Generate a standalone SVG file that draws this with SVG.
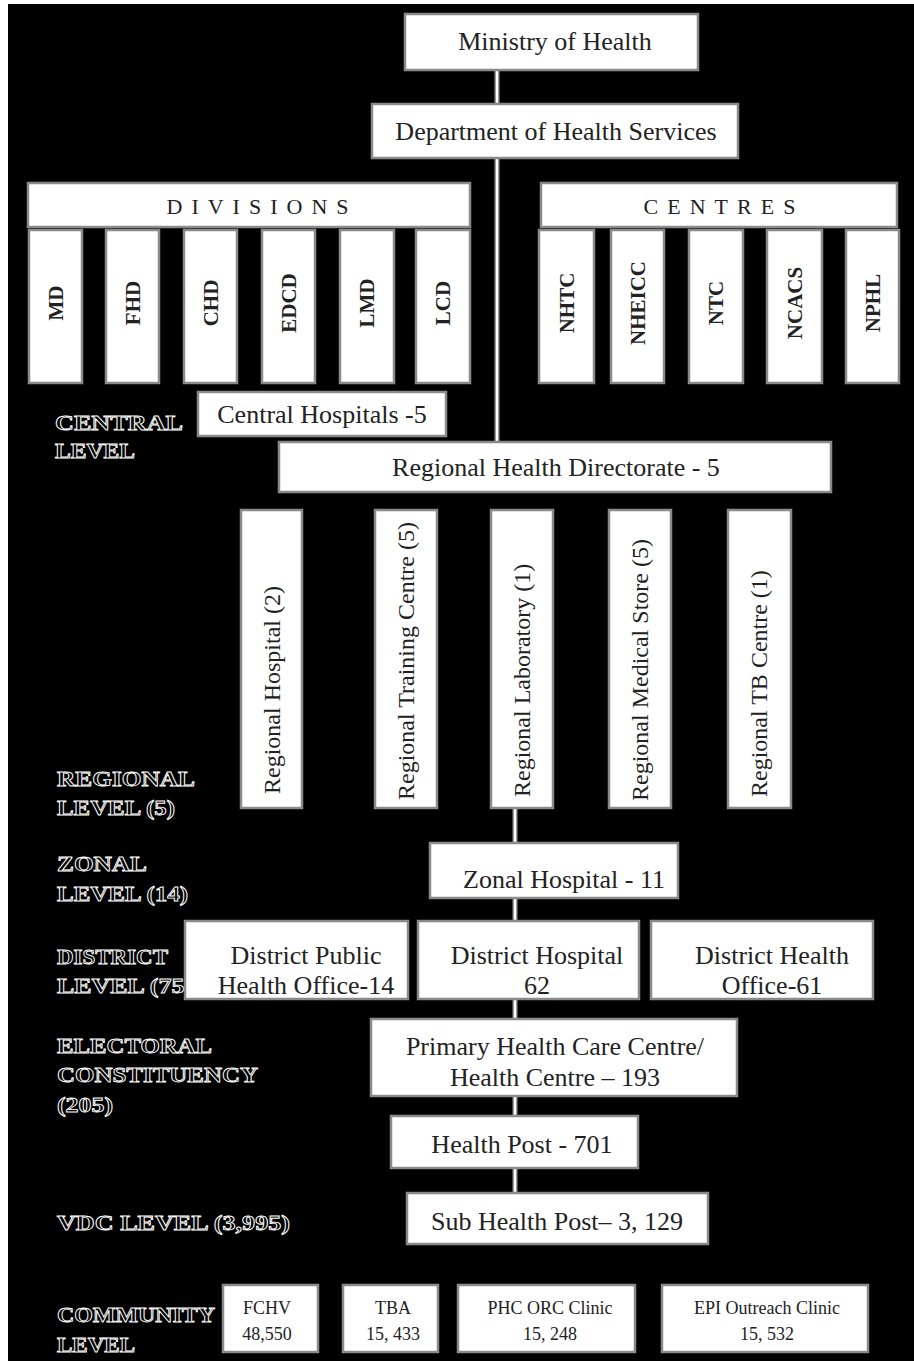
<svg xmlns="http://www.w3.org/2000/svg" width="914" height="1361" viewBox="0 0 914 1361">
<style>
.box{fill:#fff;stroke:#8a8a8a;stroke-width:2.5}
.t{font-family:"Liberation Serif","Times New Roman",serif;fill:#222;text-anchor:middle;font-size:26px}
.v{font-family:"Liberation Serif","Times New Roman",serif;fill:#222;font-size:24px}
.vb{font-family:"Liberation Serif","Times New Roman",serif;fill:#222;font-size:21px;font-weight:bold;text-anchor:middle}
.sm{font-family:"Liberation Serif","Times New Roman",serif;fill:#222;text-anchor:middle;font-size:18px}
.hd{font-family:"Liberation Serif","Times New Roman",serif;fill:#222;text-anchor:middle;font-size:22px;letter-spacing:9px}
.lbl{font-family:"Liberation Serif","Times New Roman",serif;font-weight:bold;fill:#000;stroke:#fff;stroke-width:0.9;font-size:22px}
.co{stroke:#9a9a9a;stroke-width:5;fill:none}
.ci{stroke:#fff;stroke-width:2;fill:none}
</style>
<rect x="0" y="0" width="914" height="1361" fill="#fff"/>
<rect x="8" y="4" width="906" height="1357" fill="#000"/>

<g id="level-labels">
<text class="lbl" x="55" y="430" textLength="128" lengthAdjust="spacingAndGlyphs">CENTRAL</text>
<text class="lbl" x="55" y="458" textLength="80" lengthAdjust="spacingAndGlyphs">LEVEL</text>
<text class="lbl" x="57" y="786" textLength="138" lengthAdjust="spacingAndGlyphs">REGIONAL</text>
<text class="lbl" x="57" y="815" textLength="118" lengthAdjust="spacingAndGlyphs">LEVEL (5)</text>
<text class="lbl" x="57" y="871" textLength="90" lengthAdjust="spacingAndGlyphs">ZONAL</text>
<text class="lbl" x="57" y="901" textLength="131" lengthAdjust="spacingAndGlyphs">LEVEL (14)</text>
<text class="lbl" x="57" y="964" textLength="111" lengthAdjust="spacingAndGlyphs">DISTRICT</text>
<text class="lbl" x="57" y="993" textLength="136" lengthAdjust="spacingAndGlyphs">LEVEL (75)</text>
<text class="lbl" x="57" y="1053" textLength="155" lengthAdjust="spacingAndGlyphs">ELECTORAL</text>
<text class="lbl" x="57" y="1082" textLength="201" lengthAdjust="spacingAndGlyphs">CONSTITUENCY</text>
<text class="lbl" x="57" y="1112" textLength="56" lengthAdjust="spacingAndGlyphs">(205)</text>
<text class="lbl" x="57" y="1230" textLength="233" lengthAdjust="spacingAndGlyphs">VDC LEVEL (3,995)</text>
<text class="lbl" x="57" y="1322" textLength="158" lengthAdjust="spacingAndGlyphs">COMMUNITY</text>
<text class="lbl" x="57" y="1352" textLength="78" lengthAdjust="spacingAndGlyphs">LEVEL</text>
</g>

<g id="connectors">
<line class="co" x1="497" y1="70" x2="497" y2="104"/><line class="ci" x1="497" y1="70" x2="497" y2="104"/>
<line class="co" x1="497" y1="158" x2="497" y2="442"/><line class="ci" x1="497" y1="158" x2="497" y2="442"/>
<line class="co" x1="515" y1="808" x2="515" y2="843"/><line class="ci" x1="515" y1="808" x2="515" y2="843"/>
<line class="co" x1="515" y1="898" x2="515" y2="921"/><line class="ci" x1="515" y1="898" x2="515" y2="921"/>
<line class="co" x1="515" y1="999" x2="515" y2="1019"/><line class="ci" x1="515" y1="999" x2="515" y2="1019"/>
<line class="co" x1="515" y1="1096" x2="515" y2="1116"/><line class="ci" x1="515" y1="1096" x2="515" y2="1116"/>
<line class="co" x1="515" y1="1168" x2="515" y2="1193"/><line class="ci" x1="515" y1="1168" x2="515" y2="1193"/>
</g>

<g id="ministry"><rect class="box" x="405" y="14" width="293" height="56"/><text class="t" x="555" y="50" font-size="25">Ministry of Health</text></g>
<g id="dohs"><rect class="box" x="372" y="104" width="366" height="54"/><text class="t" x="556" y="140" font-size="25">Department of Health Services</text></g>

<g id="divisions"><rect class="box" x="28" y="183" width="442" height="44"/><text class="hd" x="262" y="214">DIVISIONS</text></g>
<g id="centres"><rect class="box" x="541" y="183" width="356" height="44"/><text class="hd" x="724" y="214">CENTRES</text></g>

<g id="div-md"><rect class="box" x="29" y="230" width="53" height="153"/><text class="vb" transform="translate(63,303) rotate(-90)">MD</text></g>
<g id="div-fhd"><rect class="box" x="106" y="230" width="53" height="153"/><text class="vb" transform="translate(140,303) rotate(-90)">FHD</text></g>
<g id="div-chd"><rect class="box" x="184" y="230" width="53" height="153"/><text class="vb" transform="translate(218,303) rotate(-90)">CHD</text></g>
<g id="div-edcd"><rect class="box" x="262" y="230" width="53" height="153"/><text class="vb" transform="translate(296,303) rotate(-90)">EDCD</text></g>
<g id="div-lmd"><rect class="box" x="340" y="230" width="54" height="153"/><text class="vb" transform="translate(374,303) rotate(-90)">LMD</text></g>
<g id="div-lcd"><rect class="box" x="416" y="230" width="54" height="153"/><text class="vb" transform="translate(450,303) rotate(-90)">LCD</text></g>

<g id="cen-nhtc"><rect class="box" x="539" y="230" width="55" height="153"/><text class="vb" transform="translate(574,303) rotate(-90)">NHTC</text></g>
<g id="cen-nheicc"><rect class="box" x="611" y="230" width="53" height="153"/><text class="vb" transform="translate(645,303) rotate(-90)">NHEICC</text></g>
<g id="cen-ntc"><rect class="box" x="689" y="230" width="54" height="153"/><text class="vb" transform="translate(723,303) rotate(-90)">NTC</text></g>
<g id="cen-ncacs"><rect class="box" x="767" y="230" width="55" height="153"/><text class="vb" transform="translate(802,303) rotate(-90)">NCACS</text></g>
<g id="cen-nphl"><rect class="box" x="846" y="230" width="53" height="153"/><text class="vb" transform="translate(880,303) rotate(-90)">NPHL</text></g>

<g id="central-hospitals"><rect class="box" x="198" y="392" width="248" height="44"/><text class="t" x="322" y="423">Central Hospitals -5</text></g>
<g id="rhd"><rect class="box" x="279" y="442" width="552" height="50"/><text class="t" x="556" y="476" font-size="27.5">Regional Health Directorate - 5</text></g>

<g id="reg-hospital"><rect class="box" x="241" y="510" width="61" height="298"/><text class="v" transform="translate(280,794) rotate(-90)">Regional Hospital (2)</text></g>
<g id="reg-training"><rect class="box" x="375" y="510" width="62" height="298"/><text class="v" transform="translate(414,800) rotate(-90)">Regional Training Centre (5)</text></g>
<g id="reg-lab"><rect class="box" x="491" y="510" width="62" height="298"/><text class="v" transform="translate(530,797) rotate(-90)">Regional Laboratory (1)</text></g>
<g id="reg-store"><rect class="box" x="609" y="510" width="62" height="298"/><text class="v" transform="translate(648,801) rotate(-90)">Regional Medical Store (5)</text></g>
<g id="reg-tb"><rect class="box" x="728" y="510" width="63" height="298"/><text class="v" transform="translate(767,797) rotate(-90)">Regional TB Centre (1)</text></g>

<g id="zonal"><rect class="box" x="430" y="843" width="248" height="55"/><text class="t" x="564" y="888" font-size="26.5">Zonal Hospital - 11</text></g>

<g id="dpho"><rect class="box" x="185" y="921" width="223" height="78"/><text class="t" x="306" y="964">District Public</text><text class="t" x="306" y="994">Health Office-14</text></g>
<g id="dh"><rect class="box" x="418" y="921" width="221" height="78"/><text class="t" x="537" y="964">District Hospital</text><text class="t" x="537" y="994">62</text></g>
<g id="dho"><rect class="box" x="651" y="921" width="222" height="78"/><text class="t" x="772" y="964">District Health</text><text class="t" x="772" y="994">Office-61</text></g>

<g id="phcc"><rect class="box" x="371" y="1019" width="366" height="77"/><text class="t" x="555" y="1055" font-size="26.5">Primary Health Care Centre/</text><text class="t" x="555" y="1086" font-size="26.5">Health Centre – 193</text></g>
<g id="hp"><rect class="box" x="391" y="1116" width="247" height="52"/><text class="t" x="522" y="1153">Health Post - 701</text></g>
<g id="shp"><rect class="box" x="407" y="1193" width="301" height="51"/><text class="t" x="557" y="1230" font-size="27">Sub Health Post– 3, 129</text></g>

<g id="fchv"><rect class="box" x="223" y="1285" width="95" height="67"/><text class="sm" x="267" y="1314">FCHV</text><text class="sm" x="267" y="1340">48,550</text></g>
<g id="tba"><rect class="box" x="343" y="1285" width="95" height="67"/><text class="sm" x="393" y="1314">TBA</text><text class="sm" x="393" y="1340">15, 433</text></g>
<g id="phc-orc"><rect class="box" x="458" y="1285" width="177" height="67"/><text class="sm" x="550" y="1314">PHC ORC Clinic</text><text class="sm" x="550" y="1340">15, 248</text></g>
<g id="epi"><rect class="box" x="662" y="1285" width="206" height="67"/><text class="sm" x="767" y="1314">EPI Outreach Clinic</text><text class="sm" x="767" y="1340">15, 532</text></g>
</svg>
